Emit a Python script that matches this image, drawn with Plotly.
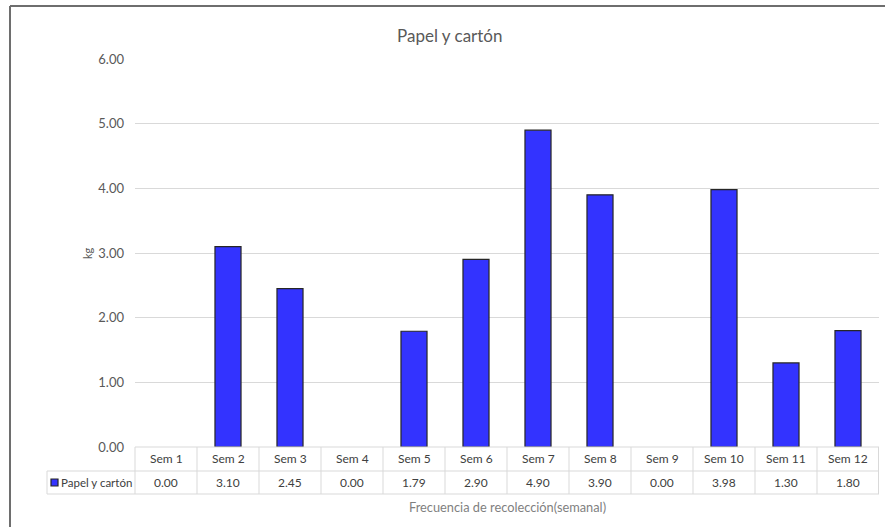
import plotly.graph_objects as go

categories = ["Sem 1", "Sem 2", "Sem 3", "Sem 4", "Sem 5", "Sem 6",
              "Sem 7", "Sem 8", "Sem 9", "Sem 10", "Sem 11", "Sem 12"]
values = [0.00, 3.10, 2.45, 0.00, 1.79, 2.90, 4.90, 3.90, 0.00, 3.98, 1.30, 1.80]
series_name = "Papel y cartón"
title_text = "Papel y cartón"
y_title = "kg"
x_title = "Frecuencia de recolección(semanal)"
y_ticks = [0, 1, 2, 3, 4, 5, 6]

W, H = 885, 527
ML, MR, MT, MB = 135, 6, 59, 80
PW, PH = W - ML - MR, H - MT - MB


def px_x(px):
    return (px - ML) / PW


def px_y(py):
    return (H - MB - py) / PH


FONT = "Lato, 'Open Sans', sans-serif"
grid_col = "#d9d9d9"
text_col = "#595959"

fig = go.Figure()
fig.add_trace(go.Bar(
    x=list(range(len(categories))), y=values, name=series_name,
    marker=dict(color="#3333ff",
                line=dict(color="#262626", width=[0 if v == 0 else 1.2 for v in values])),
    width=0.42, showlegend=False, hoverinfo="x+y",
))

shapes = []
annotations = []

# Table rows
y_row1 = px_y(471)
y_row2 = px_y(494)
x_leg = px_x(47)
shapes.append(dict(type="line", xref="paper", yref="paper", x0=0, x1=1, y0=0, y1=0,
                   line=dict(color=grid_col, width=1)))
shapes.append(dict(type="line", xref="paper", yref="paper", x0=x_leg, x1=1, y0=y_row1, y1=y_row1,
                   line=dict(color=grid_col, width=1)))
shapes.append(dict(type="line", xref="paper", yref="paper", x0=x_leg, x1=1, y0=y_row2, y1=y_row2,
                   line=dict(color=grid_col, width=1)))
shapes.append(dict(type="line", xref="paper", yref="paper", x0=x_leg, x1=x_leg, y0=y_row1, y1=y_row2,
                   line=dict(color=grid_col, width=1)))
for i in range(len(categories) + 1):
    xb = px_x(ML + i * PW / len(categories))
    if i == len(categories):
        xb = px_x(ML + PW - 0.5)
    shapes.append(dict(type="line", xref="paper", yref="paper", x0=xb, x1=xb, y0=0, y1=y_row2,
                       line=dict(color=grid_col, width=1)))

cell_font = dict(size=12, color="#404040", family=FONT)
for i, (c, v) in enumerate(zip(categories, values)):
    annotations.append(dict(x=i, y=(0 + y_row1) / 2, xref="x", yref="paper", text=c,
                            xanchor="center", yanchor="middle", showarrow=False, font=cell_font))
    annotations.append(dict(x=i, y=(y_row1 + y_row2) / 2, xref="x", yref="paper", text=f"{v:.2f}",
                            xanchor="center", yanchor="middle", showarrow=False, font=cell_font))

# Legend key in the table
shapes.append(dict(type="rect", xref="paper", yref="paper",
                   x0=px_x(51), x1=px_x(58), y0=px_y(486), y1=px_y(479),
                   fillcolor="#3333ff", line=dict(color="#262626", width=1.2)))
annotations.append(dict(x=px_x(59), y=(y_row1 + y_row2) / 2, xref="paper", yref="paper",
                        text=series_name, xanchor="left", yanchor="middle", showarrow=False,
                        font=dict(size=11.5, color="#404040", family=FONT)))

# Titles
annotations.append(dict(x=px_x(449), y=px_y(35), xref="paper", yref="paper", text=title_text,
                        xanchor="center", yanchor="middle", showarrow=False,
                        font=dict(size=17, color=text_col, family=FONT)))
annotations.append(dict(x=px_x(507), y=px_y(507), xref="paper", yref="paper", text=x_title,
                        xanchor="center", yanchor="middle", showarrow=False,
                        font=dict(size=12.8, color="#7f7f7f", family=FONT)))
annotations.append(dict(x=px_x(87), y=px_y(253), xref="paper", yref="paper", text=y_title,
                        xanchor="center", yanchor="middle", textangle=-90, showarrow=False,
                        font=dict(size=11, color=text_col, family=FONT)))

# Outer chart border (left and top visible)
shapes.append(dict(type="line", xref="paper", yref="paper", x0=px_x(10), x1=px_x(10),
                   y0=px_y(H + 2), y1=px_y(6), line=dict(color="#6e6e6e", width=2)))
shapes.append(dict(type="line", xref="paper", yref="paper", x0=px_x(10), x1=px_x(W + 2),
                   y0=px_y(6), y1=px_y(6), line=dict(color="#6e6e6e", width=2)))

fig.update_layout(
    width=W, height=H,
    margin=dict(l=ML, r=MR, t=MT, b=MB, pad=0),
    paper_bgcolor="white", plot_bgcolor="white",
    font=dict(family=FONT, color=text_col),
    xaxis=dict(range=[-0.5, len(categories) - 0.5], showticklabels=False, showgrid=False,
               zeroline=False, showline=False, ticks=""),
    yaxis=dict(range=[0, 6], tickvals=y_ticks, tickformat=".2f", showgrid=True,
               gridcolor=grid_col, gridwidth=1, zeroline=False, showline=False,
               tickfont=dict(size=13, color=text_col, family=FONT), ticklabelstandoff=10),
    shapes=shapes, annotations=annotations, bargap=0.58,
)

fig.write_html("out.html", config={"displayModeBar": False},
               post_script="document.body.style.margin='0';document.body.style.overflow='hidden';")
